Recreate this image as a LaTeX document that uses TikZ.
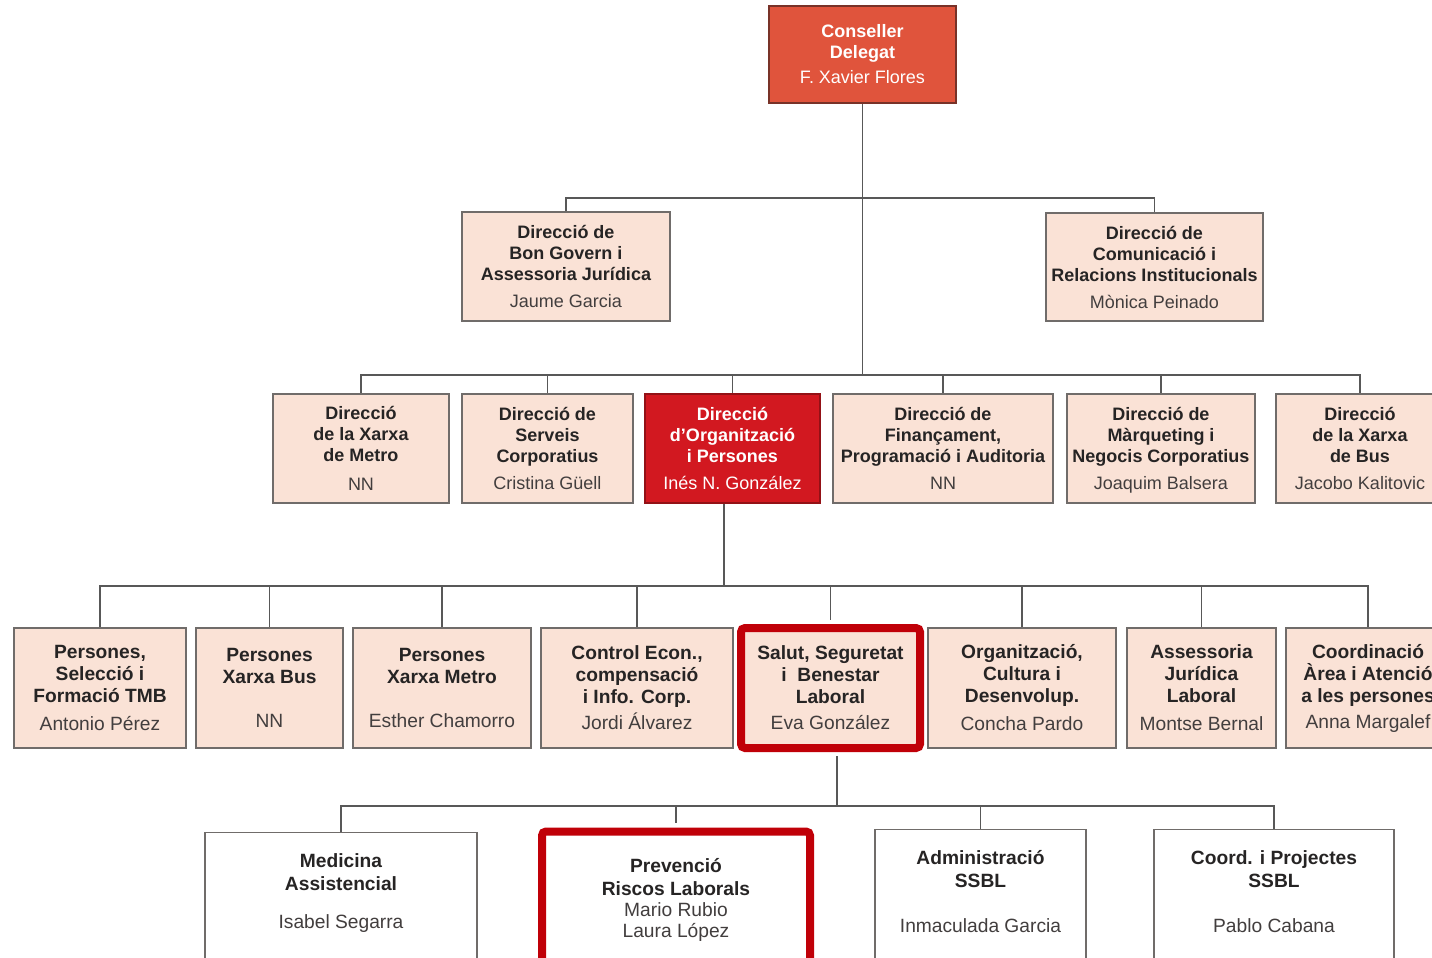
\documentclass[tikz,border=0pt]{standalone}
\usepackage{fontspec}
\setmainfont{Liberation Sans}
\usepackage{xcolor}
\usepackage{tikz}
\usetikzlibrary{
    shapes,
    positioning,
    calc
}
\definecolor{peach}{RGB}{250,226,214}
\definecolor{boxline}{RGB}{112,108,106}
\definecolor{edgegray}{RGB}{88,88,88}
\definecolor{titletext}{RGB}{38,36,36}
\definecolor{nametext}{RGB}{66,62,62}
\definecolor{ceored}{RGB}{224,84,60}
\definecolor{ceoline}{RGB}{120,50,40}
\definecolor{orgred}{RGB}{210,24,32}
\definecolor{hilite}{RGB}{192,0,8}
\newcommand{\who}{\mdseries\color{nametext}}
\newcommand{\tail}[1]{\\[#1]\mbox{}}
\newcommand{\nodepth}[1]{\raisebox{0pt}[\height][0pt]{#1}}
\tikzset{
  basic/.style = {
      draw=boxline,
      fill=peach,
      rectangle,
      align=center,
      inner sep=0pt,
      line width=0.7pt,
      text=titletext,
      font=\fontsize{9}{10.5}\selectfont\bfseries
  },
  head/.style = {
      basic,
      fill=ceored,
      draw=ceoline,
      text=white
  },
  board/.style = {
      basic,
      minimum height=54.5pt
  },
  unit/.style = {
      basic,
      minimum height=54.5pt
  },
  dept/.style = {
      basic,
      minimum height=60pt,
      font=\fontsize{9.6}{11}\selectfont\bfseries
  },
  section/.style = {
      basic,
      fill=white,
      anchor=north,
      minimum height=80pt,
      font=\fontsize{9.6}{11.5}\selectfont\bfseries
  },
  focus/.style = {
      draw=hilite,
      line width=4pt,
      rounded corners=2pt
  },
  edge/.style = {
      draw=edgegray,
      line width=0.75pt
  }
}

\begin{document}
\begin{tikzpicture}[x=0.5pt, y=-0.5pt]
    \useasboundingbox (0,0) rectangle (1432,958);
    \clip (0,0) rectangle (1432,958);
    % Top
    \node[head, minimum width=93.5pt, minimum height=48.5pt] (ceo) at (862.5,54.5)
        {Conseller\\Delegat\\[2pt]\mdseries F. Xavier Flores};
    % Staff
    \node[board, minimum width=104pt] (bongov) at (566,266.5)
        {Direcció de\\Bon Govern i\\Assessoria Jurídica\\[3pt]\who Jaume Garcia};
    \node[board, minimum width=108.5pt, minimum height=54pt] (comunic) at (1154.5,267)
        {Direcció de\\Comunicació i\\Relacions Institucionals\\[3pt]\who Mònica Peinado};
    % Directions
    \node[unit, minimum width=88pt] (metro) at (361,448.5)
        {Direcció\\de la Xarxa\\de Metro\\[4pt]\who NN};
    \node[unit, minimum width=85.5pt] (serveis) at (547.5,448.5)
        {Direcció de\\Serveis\\Corporatius\\[3pt]\who Cristina Güell};
    \node[unit, fill=orgred, draw=orgred!70!black, text=white, minimum width=87.5pt] (orgpers) at (732.5,448.5)
        {Direcció\\d’Organització\\i Persones\\[3pt]\mdseries Inés N. González};
    \node[unit, minimum width=110pt] (finan) at (943,448.5)
        {Direcció de\\Finançament,\\Programació i Auditoria\\[3pt]\who NN};
    \node[unit, minimum width=94pt] (marq) at (1161,448.5)
        {Direcció de\\Màrqueting i\\Negocis Corporatius\\[3pt]\who \nodepth{Joaquim Balsera}};
    \node[unit, minimum width=84pt] (bus) at (1360,448.5)
        {Direcció\\de la Xarxa\\de Bus\\[3pt]\who Jacobo Kalitovic};
    % Departments
    \node[dept, minimum width=86pt] (selec) at (100,688)
        {Persones,\\Selecció i\\Formació TMB\\[3pt]\who Antonio Pérez};
    \node[dept, minimum width=73.5pt] (xbus) at (269.5,688)
        {Persones\\Xarxa Bus\\[11pt]\who NN};
    \node[dept, minimum width=89pt] (xmetro) at (442,688)
        {Persones\\Xarxa Metro\\[11pt]\who Esther Chamorro};
    \node[dept, minimum width=96pt] (control) at (637,688)
        {Control Econ.,\\compensació\\i Info. Corp.\\[2pt]\who Jordi Álvarez};
    \node[dept, focus, minimum width=89.5pt] (salut) at (830.5,688)
        {Salut, Seguretat\\i\ \ Benestar\\Laboral\\[2pt]\who Eva González};
    \node[dept, minimum width=94pt] (cultura) at (1022,688)
        {Organització,\\Cultura i\\Desenvolup.\\[3pt]\who Concha Pardo};
    \node[dept, minimum width=74.5pt] (jurid) at (1201.5,688)
        {Assessoria\\Jurídica\\Laboral\\[3pt]\who Montse Bernal};
    \node[dept, minimum width=82pt] (coord) at (1368,688)
        {Coordinació\\Àrea i Atenció\\a les persones\\[2pt]\who Anna Margalef};
    % Sections
    \node[section, minimum width=136pt] (med) at (341,832)
        {Medicina\\Assistencial\\[7.5pt]\who Isabel Segarra\tail{10pt}};
    \node[section, focus, minimum width=134pt] (prev) at (676,827.5)
        {Prevenció\\Riscos Laborals\\[-1pt]\who Mario Rubio\\[-1pt]\who Laura López\tail{2.5pt}};
    \node[section, minimum width=105.5pt] (admin) at (980.5,829)
        {Administració\\SSBL\\[11pt]\who Inmaculada Garcia\tail{6.5pt}};
    \node[section, minimum width=120pt] (coordp) at (1274,829)
        {Coord. i Projectes\\SSBL\\[11pt]\who Pablo Cabana\tail{6.5pt}};
    % Edges
    \coordinate (j2) at (862.5,198);
    \coordinate (j3) at (862.5,375);
    \coordinate (j4) at (724,586);
    \coordinate (j5) at (837,806);
    \draw[edge] (ceo) -- (j3);
    \draw[edge] (bongov.north) |- (j2) -| (comunic.north);
    \foreach \n in {metro,serveis,orgpers,finan,marq,bus}
        \draw[edge] (j3) -| (\n.north);
    \draw[edge] (j4 |- orgpers.south) -- (j4);
    \foreach \n in {selec,xbus,xmetro,control,cultura,jurid,coord}
        \draw[edge] (j4) -| (\n.north);
    \draw[edge, shorten >=2pt] (j4) -| (salut.north);
    \draw[edge, shorten <=2pt] (j5 |- salut.south) -- (j5);
    \foreach \n in {med,admin,coordp}
        \draw[edge] (j5) -| (\n.north);
    \draw[edge, shorten >=2.2pt] (j5) -| (prev.north);
\end{tikzpicture}
\end{document}
